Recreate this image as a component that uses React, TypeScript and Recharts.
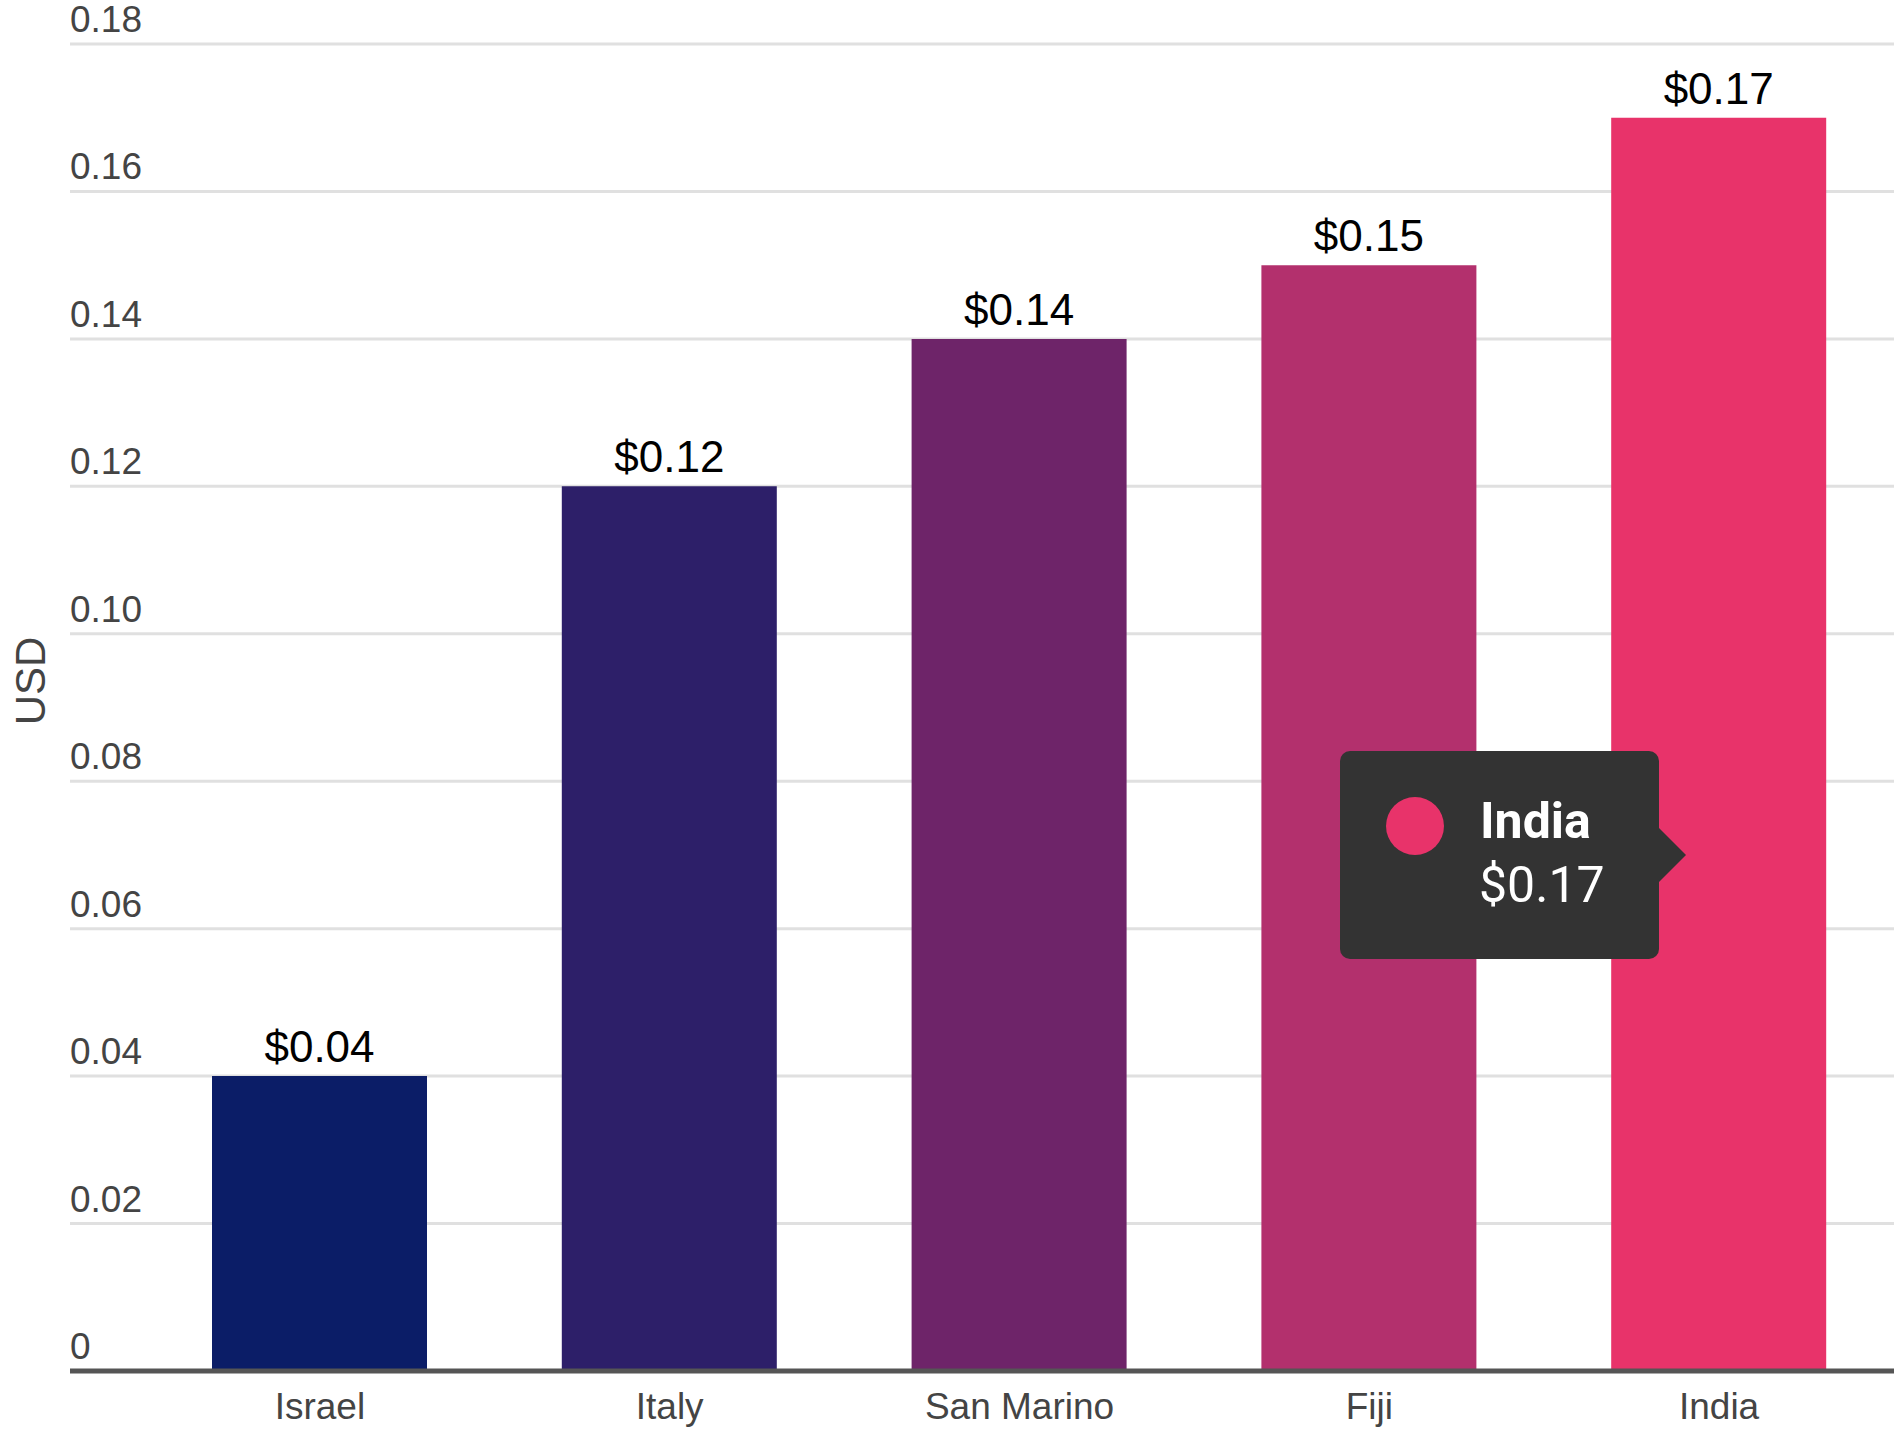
import { BarChart, Bar, XAxis, YAxis, CartesianGrid, Tooltip, Cell, LabelList } from 'recharts'

const countries = ['Israel', 'Italy', 'San Marino', 'Fiji', 'India']
const prices = [0.04, 0.12, 0.14, 0.15, 0.17]
const barColors = ['#0b1d67', '#2d1f69', '#6e2469', '#b3306d', '#e8336a']
const yTicks = [0, 0.02, 0.04, 0.06, 0.08, 0.1, 0.12, 0.14, 0.16, 0.18]

const chartData = countries.map((country, i) => ({ country, price: prices[i], color: barColors[i] }))

const AXIS_FONT = '"Liberation Sans", Arial, sans-serif'
const Y_AXIS_WIDTH = 70

function YTick({ y, payload }: any) {
  const v = payload.value as number
  return (
    <text x={Y_AXIS_WIDTH} y={y - 12} textAnchor="start" fontSize={37} fill="#444" fontFamily={AXIS_FONT}>
      {v === 0 ? '0' : v.toFixed(2)}
    </text>
  )
}

function XTick({ x, y, payload }: any) {
  return (
    <text x={x} y={y + 40} textAnchor="middle" fontSize={37} fill="#444" fontFamily={AXIS_FONT}>
      {payload.value}
    </text>
  )
}

function ValueLabel({ x, y, width, value }: any) {
  return (
    <text x={x + width / 2} y={y - 14} textAnchor="middle" fontSize={44} fill="#000" fontFamily={AXIS_FONT}>
      ${Number(value).toFixed(2)}
    </text>
  )
}

function UsdLabel() {
  return (
    <text
      x={30}
      y={681}
      transform="rotate(-90 30 681)"
      textAnchor="middle"
      dominantBaseline="central"
      fontSize={42}
      fill="#444"
      fontFamily={AXIS_FONT}
    >
      USD
    </text>
  )
}

function CustomTooltip({ active, payload }: any) {
  if (!active || !payload || !payload[0]) return null
  const d = payload[0].payload
  return (
    <div
      style={{
        position: 'relative',
        width: 319,
        height: 208,
        background: '#333333',
        borderRadius: 10,
        fontFamily: 'Roboto, sans-serif',
        color: '#fff',
      }}
    >
      <div
        style={{
          position: 'absolute',
          left: 46,
          top: 46,
          width: 58,
          height: 58,
          borderRadius: '50%',
          background: d.color,
        }}
      />
      <div style={{ position: 'absolute', left: 140, top: 40, fontSize: 50, fontWeight: 700, lineHeight: '60px' }}>
        {d.country}
      </div>
      <div style={{ position: 'absolute', left: 139, top: 104, fontSize: 50, lineHeight: '60px' }}>
        ${Number(d.price).toFixed(2)}
      </div>
      <div
        style={{
          position: 'absolute',
          left: 319,
          top: 77,
          width: 0,
          height: 0,
          borderTop: '27px solid transparent',
          borderBottom: '27px solid transparent',
          borderLeft: '27px solid #333333',
        }}
      />
    </div>
  )
}

export default function App() {
  return (
    <div style={{ position: 'absolute', left: 0, top: 0, width: 1896, height: 1432, background: '#fff' }}>
      <BarChart width={1896} height={1432} data={chartData} margin={{ top: 44, right: 2, left: 0, bottom: 0 }}>
        <CartesianGrid vertical={false} stroke="#e0e0e0" strokeWidth={3} />
        <XAxis
          dataKey="country"
          padding={{ left: 75, right: 0 }}
          axisLine={{ stroke: '#555', strokeWidth: 5 }}
          tickLine={false}
          tick={<XTick />}
          height={61}
          interval={0}
        />
        <YAxis
          domain={[0, 0.18]}
          ticks={yTicks}
          width={Y_AXIS_WIDTH}
          axisLine={false}
          tickLine={false}
          tick={<YTick />}
          label={<UsdLabel />}
        />
        <Tooltip
          active={true}
          defaultIndex={4}
          cursor={false}
          position={{ x: 1340, y: 751 }}
          content={<CustomTooltip />}
          isAnimationActive={false}
          allowEscapeViewBox={{ x: true, y: true }}
          wrapperStyle={{ outline: 'none' }}
        />
        <Bar dataKey="price" barSize={215} isAnimationActive={false} activeBar={false}>
          {chartData.map((d) => (
            <Cell key={d.country} fill={d.color} />
          ))}
          <LabelList dataKey="price" content={<ValueLabel />} />
        </Bar>
      </BarChart>
    </div>
  )
}
